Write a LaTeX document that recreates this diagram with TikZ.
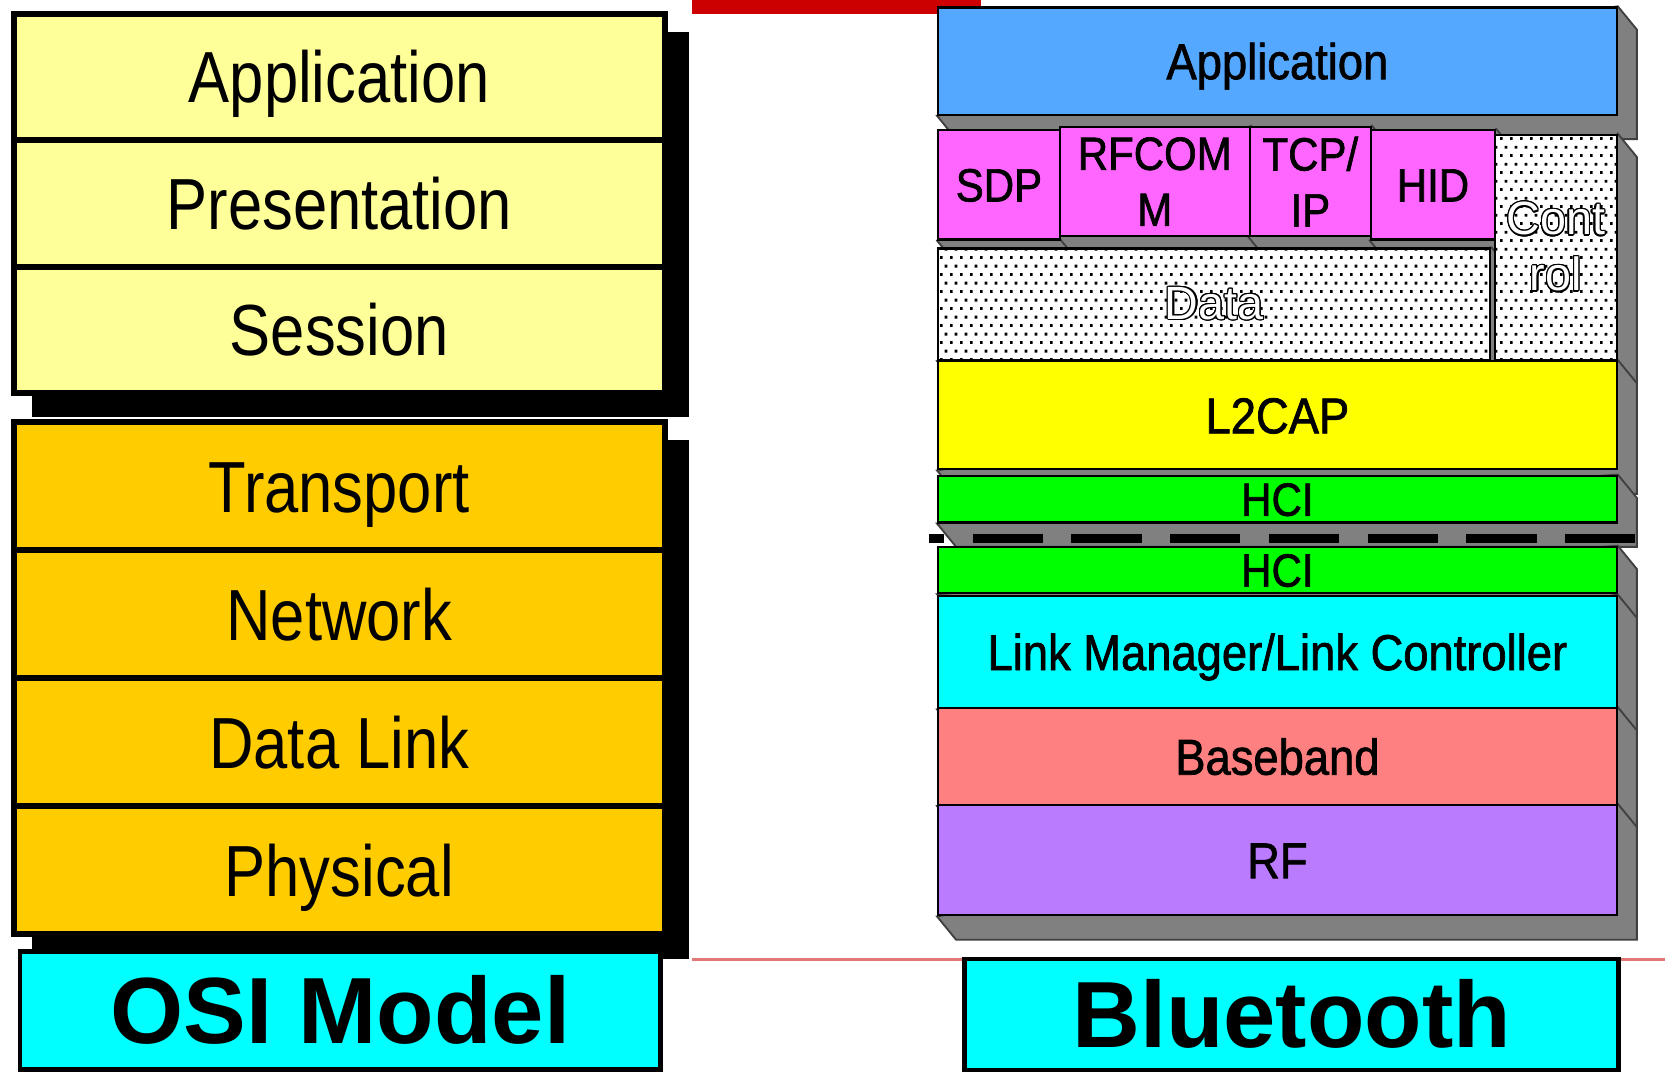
\documentclass[tikz,border=0pt]{standalone}
\usepackage{fontspec}
\setmainfont{Liberation Sans}
\newfontfamily\osifont[FakeStretch=0.85]{Liberation Sans}
\newfontfamily\btfont[FakeStretch=0.9,FakeBold=1.4]{Liberation Sans}
\usepackage{contour}
\contourlength{0.35pt}
\usetikzlibrary{patterns,backgrounds}

\definecolor{osilight}{HTML}{FFFF99}
\definecolor{osidark}{HTML}{FFCC00}
\definecolor{namecyan}{HTML}{00FFFF}
\definecolor{appblue}{HTML}{55A8FF}
\definecolor{protopink}{HTML}{FF66FF}
\definecolor{capyellow}{HTML}{FFFF00}
\definecolor{hcigreen}{HTML}{00FF00}
\definecolor{bandred}{HTML}{FF8080}
\definecolor{rfpurple}{HTML}{BB7BFF}
\definecolor{depthgray}{HTML}{808080}
\definecolor{barred}{HTML}{CC0000}
\definecolor{pinkline}{HTML}{E07878}

% small staggered dots for the Data / Control blocks
\pgfdeclarepatternformonly{btdots}{\pgfqpoint{0pt}{0pt}}{\pgfqpoint{2.68pt}{4.65pt}}{\pgfqpoint{2.68pt}{4.65pt}}{%
  \pgfpathrectangle{\pgfqpoint{0pt}{0pt}}{\pgfqpoint{0.8pt}{0.8pt}}%
  \pgfpathrectangle{\pgfqpoint{1.34pt}{2.32pt}}{\pgfqpoint{0.8pt}{0.8pt}}%
  \pgfusepath{fill}}

\begin{document}
\begin{tikzpicture}[x=0.1mm, y=-0.1mm,
    osilayer/.style={draw=black, line width=1.6pt, inner sep=0pt, minimum width=61.3mm,
      font=\osifont\fontsize{19.4}{22}\selectfont, text height=13.9pt, text depth=0pt},
    osiupper/.style={osilayer, fill=osilight, minimum height=11.9mm},
    osilower/.style={osilayer, fill=osidark, minimum height=12.06mm},
    namebox/.style={draw=black, line width=1.2pt, fill=namecyan, inner sep=0pt,
      font=\bfseries\fontsize{25.2}{30}\selectfont, text height=18pt, text depth=0pt},
    btlayer/.style={draw=black, line width=0.6pt, inner sep=0pt, minimum width=63.9mm,
      font=\btfont\fontsize{13.5}{16}\selectfont, text height=9.7pt, text depth=0pt},
    btcell/.style={draw=black, line width=0.6pt, inner sep=0pt, fill=protopink,
      minimum height=10.3mm, align=center, font=\btfont\fontsize{12.5}{15}\selectfont},
    btdotted/.style={draw=black, line width=0.6pt, inner sep=0pt, preaction={fill=white},
      pattern=btdots, text=white, align=center, font=\fontsize{12.5}{15}\selectfont}]

    \useasboundingbox (0,0) rectangle (1568,1009.5);

    % red accents of the slide
    \fill[barred] (652,0) rectangle (924,13);
    \draw[pinkline, line width=0.7pt] (651.5,903.5) -- (1568,903.5);

    % OSI model, upper and lower groups
    \node[osiupper] (osiapp) at (319.5,72.5) {Application};
    \node[osiupper] (osipres) at (319.5,191.5) {Presentation};
    \node[osiupper] (osisess) at (319.5,310.5) {Session};
    \node[osilower] (ositrans) at (319.5,457.75) {Transport};
    \node[osilower] (osinet) at (319.5,578.35) {Network};
    \node[osilower] (osidl) at (319.5,698.95) {Data Link};
    \node[osilower] (osiphys) at (319.5,819.55) {Physical};
    \node[namebox, minimum width=60.3mm, minimum height=11.1mm] (osiname) at (320.5,951.5) {OSI Model};

    % Bluetooth stack
    \node[btlayer, fill=appblue, minimum height=10.1mm] (btapp) at (1203,57.5) {Application};
    \node[btcell, minimum width=11.45mm, text height=8.95pt, text depth=0pt] (sdp) at (940.75,174) {SDP};
    \node[btcell, minimum width=17.9mm] (rfcomm) at (1087.5,171) {RFCOM\\M};
    \node[btcell, minimum width=11.4mm] (tcpip) at (1234,171) {TCP/\\IP};
    \node[btcell, minimum width=11.7mm, text height=8.95pt, text depth=0pt] (hid) at (1349.5,174) {HID};
    \node[btdotted, minimum width=52mm, minimum height=10.5mm] (btdata) at (1143.5,286.5) {\contour{black}{Data}};
    \node[btdotted, minimum width=11.45mm, minimum height=21.2mm] (btctrl) at (1465.25,233) {\contour{black}{Cont}\\\contour{black}{rol}};
    \node[btlayer, fill=capyellow, minimum height=10.2mm] (ltcap) at (1203,391) {L2CAP};
    \node[btlayer, fill=hcigreen, minimum height=4.4mm, font=\btfont\fontsize{12.5}{15}\selectfont, text height=8.95pt] (hciup) at (1203,470) {HCI};
    \node[btlayer, fill=hcigreen, minimum height=4.35mm, font=\btfont\fontsize{12.5}{15}\selectfont, text height=8.95pt] (hcidown) at (1203,536.75) {HCI};
    \node[btlayer, fill=namecyan, minimum height=10.6mm] (lmlc) at (1203,614) {Link Manager/Link Controller};
    \node[btlayer, fill=bandred, minimum height=9.1mm] (baseband) at (1203,712.5) {Baseband};
    \node[btlayer, fill=rfpurple, minimum height=10.4mm] (rf) at (1203,810) {RF};
    \node[namebox, minimum width=61.55mm, minimum height=10.45mm] (btname) at (1216.25,955.25) {Bluetooth};

    % host / controller split
    \coordinate (cutR) at (1540,507.5);
    \coordinate (cutL) at (875,507.5);
    \draw[line width=2.4pt, dash pattern=on 6.6mm off 2.7mm] (cutR) -- (cutL);

    \begin{scope}[on background layer]
        \fill[white] (0,0) rectangle (1568,1009.5);
        % black drop shadows of the OSI groups
        \fill[black] ([shift={(20,20)}]osiapp.north west) rectangle ([shift={(20,20)}]osisess.south east);
        \fill[black] ([shift={(20,20)}]ositrans.north west) rectangle ([shift={(20,20)}]osiphys.south east);
        % grey depth of the Bluetooth blocks
        \foreach \layer in {btapp,sdp,rfcomm,tcpip,hid,btctrl,btdata,ltcap,hciup,hcidown,lmlc,baseband,rf}
            \fill[depthgray, draw=black!75, line width=0.5pt] (\layer.north east) -- ([shift={(18,22)}]\layer.north east)
                -- ([shift={(18,22)}]\layer.south east) -- ([shift={(18,22)}]\layer.south west) -- (\layer.south west) -- cycle;
    \end{scope}
\end{tikzpicture}
\end{document}
